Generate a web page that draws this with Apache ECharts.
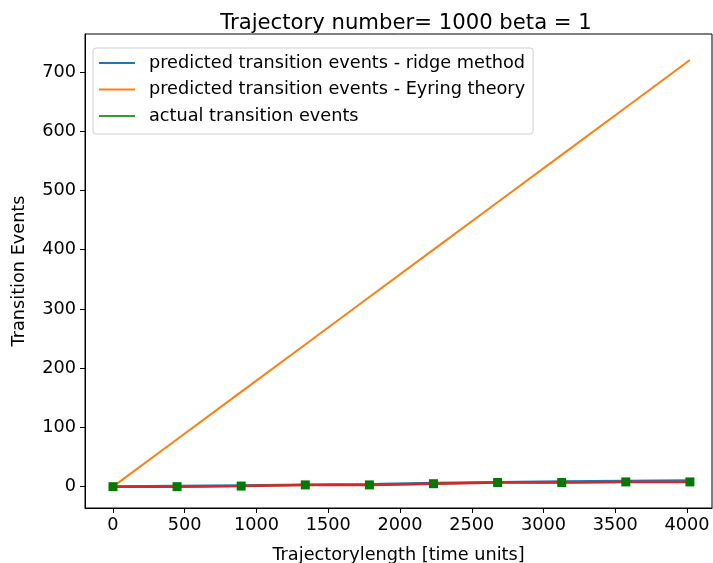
<!DOCTYPE html>
<html>
<head>
<meta charset="utf-8">
<script src="https://cdn.jsdelivr.net/npm/echarts@6/dist/echarts.min.js"></script>
<style>
  html, body { margin: 0; padding: 0; background: #fff; }
  #chart { width: 713px; height: 563px; }
</style>
</head>
<body>
<div id="chart"></div>
<script>
// Trajectory lengths (time units) at which transition events were counted
const trajectoryLength = [0, 446.7, 893.3, 1340, 1786.7, 2233.3, 2680, 3126.7, 3573.3, 4020];
// Predicted transition events, ridge method
const ridgePred = [0.5, 1.5, 2.5, 3.5, 4.5, 6.5, 8, 9, 10, 11];
// Predicted transition events, Eyring theory
const eyringPred = [0, 80, 160, 240, 320, 400, 480, 560, 640, 720];
// Actual transition events
const actualEvents = [0, 0, 1, 3, 3, 5, 7, 7, 8, 8];

const xTicks = [0, 500, 1000, 1500, 2000, 2500, 3000, 3500, 4000];
const yTicks = [0, 100, 200, 300, 400, 500, 600, 700];

const pairs = ys => trajectoryLength.map((t, i) => [t, ys[i]]);
const FONT = 'DejaVu Sans';
const LABEL_SIZE = 17.7;

const chart = echarts.init(document.getElementById('chart'), null, { renderer: 'canvas' });
chart.setOption({
  animation: false,
  backgroundColor: '#ffffff',
  title: {
    text: 'Trajectory number= 1000 beta = 1',
    left: 401, top: 8, textAlign: 'center',
    textStyle: { fontFamily: FONT, fontSize: 21.2, fontWeight: 'normal', color: '#000' }
  },
  legend: {
    left: 93, top: 48, orient: 'vertical',
    data: ['predicted transition events - ridge method', 'predicted transition events - Eyring theory', 'actual transition events'],
    icon: 'rect', itemWidth: 36, itemHeight: 2, itemGap: 6.5,
    padding: [5, 8, 8, 6],
    backgroundColor: '#fff', borderColor: '#d0d0d0', borderWidth: 1, borderRadius: 3,
    textStyle: { fontFamily: FONT, fontSize: LABEL_SIZE, color: '#000', lineHeight: 20, padding: [0, 0, 0, 9] }
  },
  grid: {
    left: 85, top: 34, right: 1, bottom: 55,
    outerBoundsMode: 'none', containLabel: false,
    show: true, borderColor: '#000', borderWidth: 1, backgroundColor: 'transparent'
  },
  xAxis: {
    type: 'value', min: -195, max: 4174,
    name: 'Trajectorylength [time units]', nameLocation: 'middle', nameGap: 38,
    nameTextStyle: { fontFamily: FONT, fontSize: LABEL_SIZE, color: '#000' },
    axisLine: { show: true, onZero: false, lineStyle: { color: '#000', width: 1 } },
    axisTick: { show: true, length: 5, customValues: xTicks, lineStyle: { color: '#000' } },
    axisLabel: { customValues: xTicks, formatter: v => String(v), fontFamily: FONT, fontSize: LABEL_SIZE, color: '#000', margin: 8 },
    splitLine: { show: false }
  },
  yAxis: {
    type: 'value', min: -36, max: 764,
    name: 'Transition Events', nameLocation: 'middle', nameGap: 57, nameRotate: 90,
    nameTextStyle: { fontFamily: FONT, fontSize: LABEL_SIZE, color: '#000' },
    axisLine: { show: true, onZero: false, lineStyle: { color: '#000', width: 1 } },
    axisTick: { show: true, length: 5, customValues: yTicks, lineStyle: { color: '#000' } },
    axisLabel: { customValues: yTicks, formatter: v => String(v), fontFamily: FONT, fontSize: LABEL_SIZE, color: '#000', margin: 9 },
    splitLine: { show: false }
  },
  series: [
    {
      name: 'predicted transition events - ridge method', type: 'line',
      data: pairs(ridgePred), showSymbol: false, symbol: 'none',
      lineStyle: { color: '#1f77b4', width: 2 }, itemStyle: { color: '#1f77b4' }, z: 2
    },
    {
      name: 'predicted transition events - Eyring theory', type: 'line',
      data: pairs(eyringPred), showSymbol: false, symbol: 'none',
      lineStyle: { color: '#ff7f0e', width: 2 }, itemStyle: { color: '#ff7f0e' }, z: 2
    },
    {
      name: 'actual transition events', type: 'line',
      data: pairs(actualEvents), showSymbol: false, symbol: 'none',
      lineStyle: { color: '#2ca02c', width: 2 }, itemStyle: { color: '#2ca02c' }, z: 2
    },
    {
      name: 'actual (line)', type: 'line',
      data: pairs(actualEvents), showSymbol: false, symbol: 'none',
      lineStyle: { color: '#d62728', width: 2.5 }, itemStyle: { color: '#d62728' }, z: 3
    },
    {
      name: 'actual (markers)', type: 'scatter',
      data: pairs(actualEvents), symbol: 'rect', symbolSize: 9,
      itemStyle: { color: '#007a00', opacity: 1 }, z: 4
    }
  ]
});
</script>
</body>
</html>
